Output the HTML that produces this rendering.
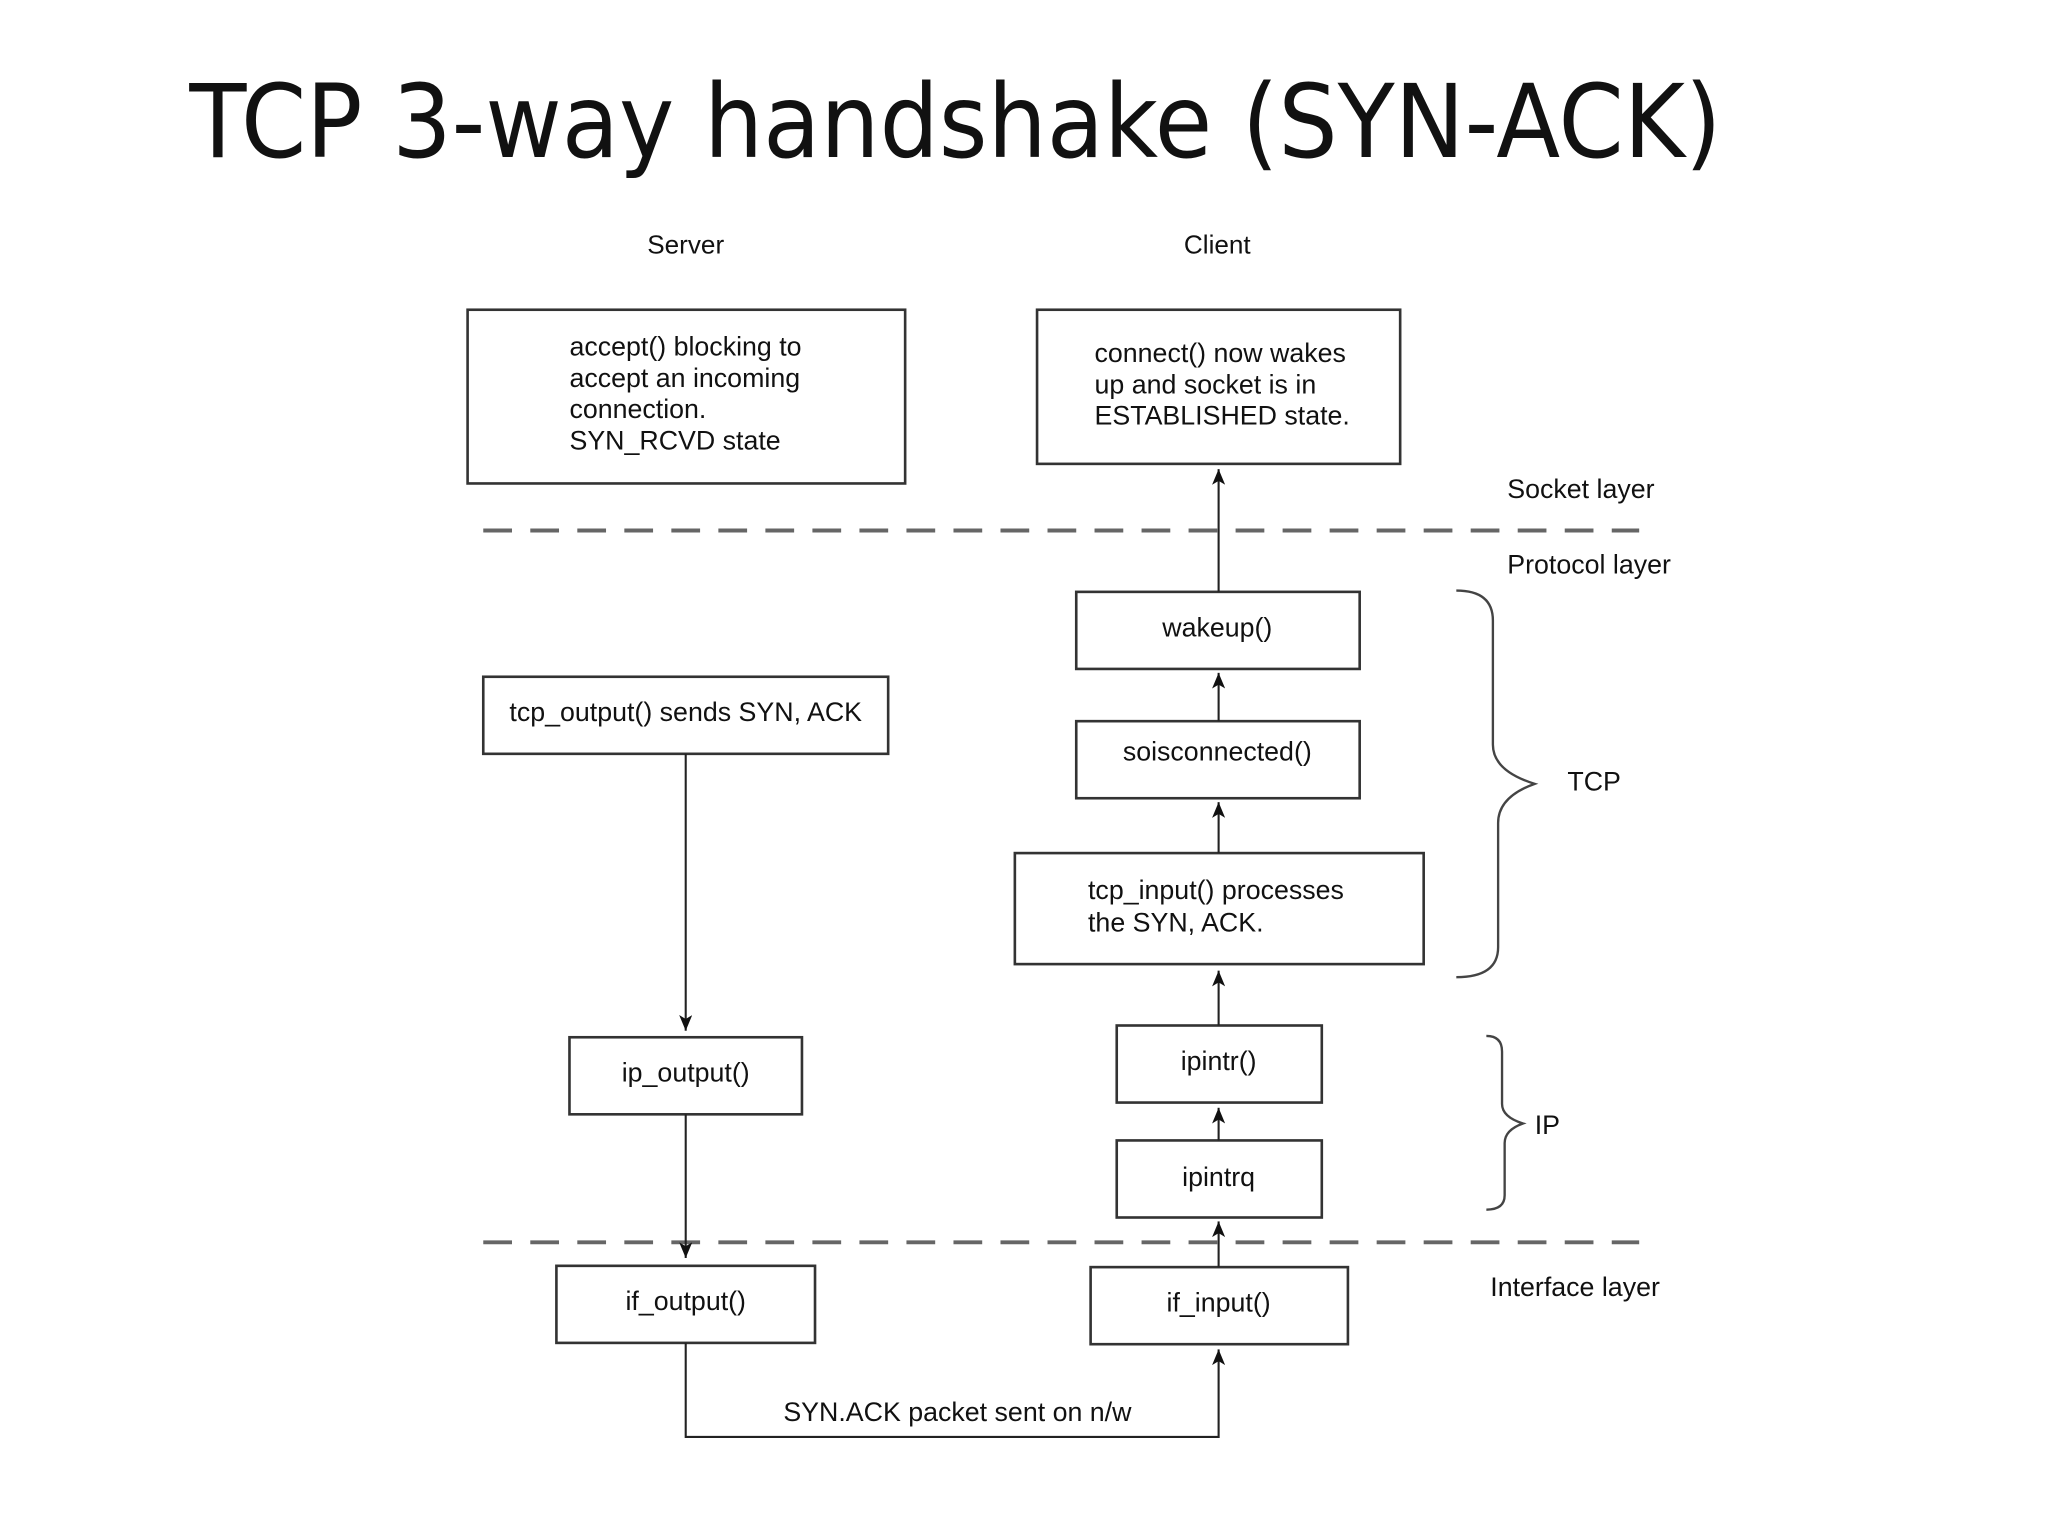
<!DOCTYPE html>
<html><head><meta charset="utf-8"><style>
html,body{margin:0;padding:0;background:#fff;}
svg{display:block;}
text{font-family:"Liberation Sans",sans-serif;fill:#111;}
</style></head><body>
<svg width="2048" height="1539" viewBox="0 0 1568 1178" xmlns="http://www.w3.org/2000/svg">
<defs><marker id="a" markerWidth="13" markerHeight="10" refX="12" refY="5" orient="auto-start-reverse" markerUnits="userSpaceOnUse" viewBox="0 0 13 10"><path d="M0,0 L12,5 L0,10 L3,5 Z" fill="#111"/></marker></defs>
<text x="145" y="120" textLength="1173" lengthAdjust="spacingAndGlyphs" style="font-family:'DejaVu Sans',sans-serif;font-size:78px">TCP 3-way handshake (SYN-ACK)</text>
<g font-size="20">
<text x="525" y="194" text-anchor="middle">Server</text>
<text x="932" y="194" text-anchor="middle">Client</text>
</g>
<g fill="#fff" stroke="#333" stroke-width="2">
<rect x="358" y="237" width="335" height="133"/>
<rect x="794" y="237" width="278" height="118"/>
<rect x="824" y="453" width="217" height="59"/>
<rect x="824" y="552" width="217" height="59"/>
<rect x="777" y="653" width="313" height="85"/>
<rect x="855" y="785" width="157" height="59"/>
<rect x="855" y="873" width="157" height="59"/>
<rect x="835" y="970" width="197" height="59"/>
<rect x="370" y="518" width="310" height="59"/>
<rect x="436" y="794" width="178" height="59"/>
<rect x="426" y="969" width="198" height="59"/>
</g>
<g font-size="20.5">
<text x="436" y="272">accept() blocking to</text>
<text x="436" y="296">accept an incoming</text>
<text x="436" y="320">connection.</text>
<text x="436" y="344">SYN_RCVD state</text>
<text x="838" y="277">connect() now wakes</text>
<text x="838" y="301">up and socket is in</text>
<text x="838" y="325">ESTABLISHED state.</text>
<text x="932" y="487" text-anchor="middle">wakeup()</text>
<text x="932" y="582" text-anchor="middle">soisconnected()</text>
<text x="833" y="688">tcp_input() processes</text>
<text x="833" y="713">the SYN, ACK.</text>
<text x="933" y="819" text-anchor="middle">ipintr()</text>
<text x="933" y="908" text-anchor="middle">ipintrq</text>
<text x="933" y="1004" text-anchor="middle">if_input()</text>
<text x="525" y="552" text-anchor="middle">tcp_output() sends SYN, ACK</text>
<text x="525" y="828" text-anchor="middle">ip_output()</text>
<text x="525" y="1003" text-anchor="middle">if_output()</text>
<text x="1154" y="381">Socket layer</text>
<text x="1154" y="439">Protocol layer</text>
<text x="1141" y="992">Interface layer</text>
<text x="1200" y="605">TCP</text>
<text x="1175" y="868">IP</text>
<text x="733" y="1088" text-anchor="middle">SYN.ACK packet sent on n/w</text>
</g>
<g stroke="#666" stroke-width="3" stroke-dasharray="22,14">
<line x1="370" y1="406" x2="1255" y2="406"/>
<line x1="370" y1="951" x2="1255" y2="951"/>
</g>
<g stroke="#222" stroke-width="1.6" fill="none">
<line x1="525" y1="577" x2="525" y2="789" marker-end="url(#a)"/>
<line x1="525" y1="853" x2="525" y2="963" marker-end="url(#a)"/>
<line x1="933" y1="453" x2="933" y2="359" marker-end="url(#a)"/>
<line x1="933" y1="552" x2="933" y2="515" marker-end="url(#a)"/>
<line x1="933" y1="653" x2="933" y2="614" marker-end="url(#a)"/>
<line x1="933" y1="785" x2="933" y2="743" marker-end="url(#a)"/>
<line x1="933" y1="873" x2="933" y2="848" marker-end="url(#a)"/>
<line x1="933" y1="970" x2="933" y2="935" marker-end="url(#a)"/>
<polyline points="525,1028 525,1100 933,1100 933,1033" marker-end="url(#a)"/>
</g>
<g stroke="#444" stroke-width="1.8" fill="none">
<path d="M1115,452 Q1143,452 1143,475 L1143,570 Q1143,590 1175,600 Q1147,610 1147,630 L1147,725 Q1147,748 1115,748"/>
<path d="M1138,793 Q1150,793 1150,805 L1150,845 Q1150,855 1166,860 Q1152,865 1152,875 L1152,915 Q1152,926 1138,926"/>
</g>
</svg>
</body></html>
